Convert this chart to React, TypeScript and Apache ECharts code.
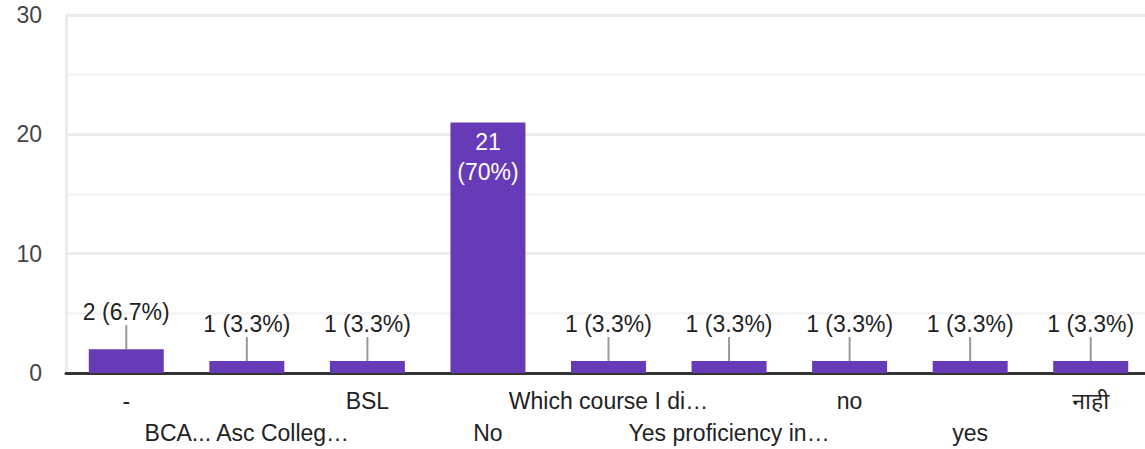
import React, { useEffect, useRef } from "react";
import * as echarts from "echarts";

const categories = [
  "-",
  "BCA... Asc Colleg…",
  "BSL",
  "No",
  "Which course I di…",
  "Yes proficiency in…",
  "no",
  "yes",
  "नाही",
];
const counts = [2, 1, 1, 21, 1, 1, 1, 1, 1];
const percents = ["6.7%", "3.3%", "3.3%", "70%", "3.3%", "3.3%", "3.3%", "3.3%", "3.3%"];
const yTicks = [0, 10, 20, 30];

const FONT = "'Liberation Sans', Arial, 'Noto Sans', sans-serif";
const INSIDE_MIN = 5;
const FS = 23;

export default function App() {
  const ref = useRef<HTMLDivElement>(null);
  useEffect(() => {
    if (!ref.current) return;
    const chart = echarts.init(ref.current, undefined, { renderer: "svg" });
    const barData = counts.map((v, i) => {
      const inside = v >= INSIDE_MIN;
      return {
        value: v,
        label: inside
          ? {
              show: true,
              position: "insideTop",
              distance: 5,
              color: "#ffffff",
              lineHeight: 30,
              formatter: `${v}\n(${percents[i]})`,
            }
          : {
              show: true,
              position: "top",
              distance: 26,
              color: "#222222",
              lineHeight: 22,
              formatter: `${v} (${percents[i]})`,
            },
      };
    });
    const leaderData = counts
      .map((v, i) => [i, v])
      .filter((d) => d[1] < INSIDE_MIN);
    chart.setOption({
      animation: false,
      grid: { left: 66, top: 15, right: 0, bottom: 75, containLabel: false },
      xAxis: {
        type: "category",
        data: categories,
        axisLine: { show: true, lineStyle: { color: "#333333", width: 3 } },
        axisTick: { show: false },
        axisLabel: {
          interval: 0,
          margin: 12,
          color: "#222222",
          fontSize: FS,
          fontFamily: FONT,
          lineHeight: 32,
          formatter: (val: string, idx: number) => (idx % 2 === 1 ? "\n" + val : val),
        },
      },
      yAxis: {
        type: "value",
        min: yTicks[0],
        max: yTicks[yTicks.length - 1],
        interval: 10,
        axisLine: { show: true, lineStyle: { color: "#ebebeb", width: 3 } },
        axisTick: { show: false },
        axisLabel: { margin: 24, color: "#444444", fontSize: FS, fontFamily: FONT },
        splitLine: { show: true, lineStyle: { color: "#ebebeb", width: 3 } },
        minorTick: { show: false, splitNumber: 2 },
        minorSplitLine: { show: true, lineStyle: { color: "#f5f5f5", width: 3 } },
      },
      series: [
        {
          type: "bar",
          data: barData,
          barWidth: 75,
          itemStyle: { color: "#673ab7" },
          label: { fontSize: FS, fontFamily: FONT },
          z: 2,
        },
        {
          type: "custom",
          data: leaderData,
          z: 3,
          renderItem: (params: any, api: any) => {
            const p = api.coord([api.value(0), api.value(1)]);
            return {
              type: "line",
              shape: { x1: p[0], y1: p[1], x2: p[0], y2: p[1] - 24 },
              style: { stroke: "#999999", lineWidth: 2 },
            };
          },
        },
      ],
    });
    return () => chart.dispose();
  }, []);
  return (
    <div
      style={{
        position: "absolute",
        left: 0,
        top: 0,
        width: 1145,
        height: 449,
        overflow: "hidden",
        background: "#fff",
      }}
    >
      <div ref={ref} style={{ width: 1151, height: 449 }} />
    </div>
  );
}
